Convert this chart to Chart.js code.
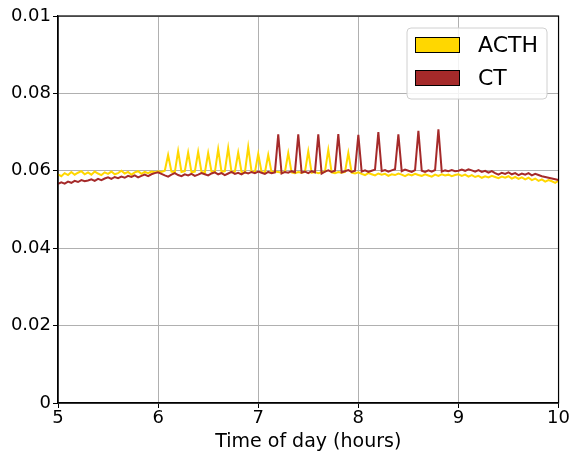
<!DOCTYPE html>
<html lang="en">
<head>
<meta charset="UTF-8" />
<title>ACTH and CT</title>
<script src="https://cdn.jsdelivr.net/npm/chart.js"></script>
<style>
  html, body { margin: 0; padding: 0; background: #fff; }
  #chart { display: block; }
</style>
</head>
<body>
<canvas id="chart" width="570" height="453"></canvas>
<script>
// samples every 2 minutes from 5:00 to 10:00
var startHour = 5;
var stepHours = 2 / 60;

var xTicks = [5, 6, 7, 8, 9, 10];
var yTickLabels = ["0", "0.02", "0.04", "0.06", "0.08", "0.01"];
var seriesNames = ["ACTH", "CT"];

var acth = [
  0.0591, 0.0586, 0.0594, 0.0589, 0.0597, 0.0590, 0.0595, 0.0599, 0.0591, 0.0596,
  0.0590, 0.0598, 0.0593, 0.0589, 0.0596, 0.0592, 0.0598, 0.0591, 0.0594, 0.0600,
  0.0593, 0.0597, 0.0590, 0.0596, 0.0599, 0.0592, 0.0597, 0.0594, 0.0598, 0.0596,
  0.0599, 0.0597, 0.0600, 0.0641, 0.0598, 0.0596, 0.0651, 0.0597, 0.0599, 0.0647,
  0.0596, 0.0598, 0.0649, 0.0597, 0.0595, 0.0646, 0.0598, 0.0596, 0.0656, 0.0597,
  0.0599, 0.0659, 0.0596, 0.0598, 0.0647, 0.0597, 0.0595, 0.0662, 0.0598, 0.0596,
  0.0644, 0.0597, 0.0595, 0.0641, 0.0596, 0.0598, 0.0597, 0.0595, 0.0597, 0.0646,
  0.0596, 0.0594, 0.0597, 0.0595, 0.0597, 0.0650, 0.0595, 0.0597, 0.0594, 0.0596,
  0.0598, 0.0654, 0.0596, 0.0594, 0.0597, 0.0595, 0.0597, 0.0646, 0.0595, 0.0593,
  0.0596, 0.0592, 0.0589, 0.0594, 0.0591, 0.0588, 0.0593, 0.0590, 0.0592, 0.0587,
  0.0591, 0.0589, 0.0593, 0.0590, 0.0586, 0.0591, 0.0588, 0.0592, 0.0589, 0.0587,
  0.0591, 0.0588, 0.0585, 0.0590, 0.0587, 0.0591, 0.0588, 0.0590, 0.0586, 0.0589,
  0.0591, 0.0587, 0.0590, 0.0585, 0.0589, 0.0584, 0.0587, 0.0582, 0.0586, 0.0583,
  0.0587, 0.0584, 0.0581, 0.0585, 0.0582, 0.0586, 0.0580, 0.0584, 0.0579, 0.0583,
  0.0578, 0.0582, 0.0576, 0.0580, 0.0574, 0.0578, 0.0572, 0.0576, 0.0573, 0.0569,
  0.0575
];

var ct = [
  0.0566, 0.0570, 0.0567, 0.0572, 0.0569, 0.0574, 0.0571, 0.0576, 0.0573, 0.0575,
  0.0578, 0.0574, 0.0579, 0.0576, 0.0580, 0.0583, 0.0579, 0.0584, 0.0581, 0.0585,
  0.0582, 0.0587, 0.0584, 0.0588, 0.0583, 0.0587, 0.0590, 0.0586, 0.0591, 0.0594,
  0.0596, 0.0592, 0.0588, 0.0585, 0.0590, 0.0594, 0.0589, 0.0586, 0.0591, 0.0588,
  0.0592, 0.0587, 0.0590, 0.0594, 0.0591, 0.0588, 0.0593, 0.0596, 0.0591, 0.0594,
  0.0589, 0.0593, 0.0597, 0.0592, 0.0595, 0.0591, 0.0596, 0.0593, 0.0597, 0.0594,
  0.0598, 0.0595, 0.0592, 0.0597, 0.0594, 0.0596, 0.0694, 0.0593, 0.0597, 0.0595,
  0.0599, 0.0596, 0.0694, 0.0595, 0.0598, 0.0594, 0.0599, 0.0596, 0.0694, 0.0593,
  0.0598, 0.0601, 0.0597, 0.0600, 0.0695, 0.0596, 0.0599, 0.0602, 0.0597, 0.0600,
  0.0693, 0.0598, 0.0601, 0.0597, 0.0600, 0.0603, 0.0700, 0.0599, 0.0602, 0.0598,
  0.0601, 0.0604, 0.0694, 0.0599, 0.0603, 0.0600, 0.0597, 0.0602, 0.0703, 0.0600,
  0.0597, 0.0601, 0.0598, 0.0602, 0.0707, 0.0598, 0.0601, 0.0599, 0.0602, 0.0599,
  0.0600, 0.0603, 0.0600, 0.0604, 0.0601, 0.0598, 0.0602, 0.0597, 0.0600, 0.0595,
  0.0599, 0.0594, 0.0590, 0.0595, 0.0592, 0.0596, 0.0591, 0.0594, 0.0589, 0.0593,
  0.0590, 0.0594, 0.0588, 0.0592, 0.0589, 0.0586, 0.0584, 0.0582, 0.0580, 0.0578,
  0.0576
];

var colors = ["#FFD700", "#A52A2A"];

function toPoints(vals) {
  return vals.map(function (v, i) {
    return { x: startHour + i * stepHours, y: v };
  });
}

Chart.defaults.font.family = "'DejaVu Sans', sans-serif";
Chart.defaults.color = "#000";

// matplotlib-ish frame and legend box
var framePlugin = {
  id: "frame",
  afterDraw: function (chart) {
    var c = chart.ctx, a = chart.chartArea;
    c.save();
    c.strokeStyle = "#000";
    c.lineWidth = 1.2;
    c.strokeRect(a.left, a.top, a.right - a.left, a.bottom - a.top);

    // legend
    var lx = 407, ly = 28, lw = 140, lh = 71, r = 4;
    c.beginPath();
    c.moveTo(lx + r, ly);
    c.arcTo(lx + lw, ly, lx + lw, ly + lh, r);
    c.arcTo(lx + lw, ly + lh, lx, ly + lh, r);
    c.arcTo(lx, ly + lh, lx, ly, r);
    c.arcTo(lx, ly, lx + lw, ly, r);
    c.closePath();
    c.fillStyle = "rgba(255,255,255,0.85)";
    c.fill();
    c.strokeStyle = "#d0d0d0";
    c.lineWidth = 1;
    c.stroke();

    c.font = "22px 'DejaVu Sans'";
    c.textBaseline = "middle";
    for (var i = 0; i < seriesNames.length; i++) {
      var y = 45 + i * 33;
      c.fillStyle = colors[i];
      c.fillRect(415, y - 8, 45, 16);
      c.strokeStyle = "#000";
      c.lineWidth = 1;
      c.strokeRect(415.5, y - 7.5, 44, 15);
      c.fillStyle = "#000";
      c.fillText(seriesNames[i], 478, y + 1);
    }
    c.restore();
  },
};

new Chart(document.getElementById("chart"), {
  type: "line",
  plugins: [framePlugin],
  data: {
    datasets: [
      {
        label: seriesNames[0],
        data: toPoints(acth),
        borderColor: colors[0],
        borderWidth: 2,
        pointRadius: 0,
        tension: 0,
        order: 2,
      },
      {
        label: seriesNames[1],
        data: toPoints(ct),
        borderColor: colors[1],
        borderWidth: 2,
        pointRadius: 0,
        tension: 0,
        order: 1,
      },
    ],
  },
  options: {
    responsive: false,
    animation: false,
    layout: { padding: { top: 16, right: 11, left: 0, bottom: 0 } },
    plugins: {
      legend: { display: false },
      tooltip: { enabled: false },
    },
    scales: {
      x: {
        type: "linear",
        min: 5,
        max: 10,
        afterBuildTicks: function (scale) {
          scale.ticks = xTicks.map(function (v) { return { value: v }; });
        },
        afterFit: function (scale) { scale.height = 50; },
        ticks: {
          font: { size: 18 },
          padding: 0,
          maxRotation: 0,
          callback: function (v) { return v; },
        },
        grid: { color: "#b0b0b0", tickColor: "#000", tickLength: 5, lineWidth: 1 },
        border: { color: "#000", width: 1.2 },
        title: {
          display: true,
          text: "Time of day (hours)",
          font: { size: 19 },
          padding: { top: 0, bottom: 0 },
        },
      },
      y: {
        min: 0,
        max: 0.1,
        afterFit: function (scale) { scale.width = 58; },
        ticks: {
          stepSize: 0.02,
          font: { size: 18 },
          padding: 2,
          callback: function (v, i) { return yTickLabels[i]; },
        },
        grid: { color: "#b0b0b0", tickColor: "#000", tickLength: 5, lineWidth: 1 },
        border: { color: "#000", width: 1.2 },
      },
    },
  },
});
</script>
</body>
</html>
